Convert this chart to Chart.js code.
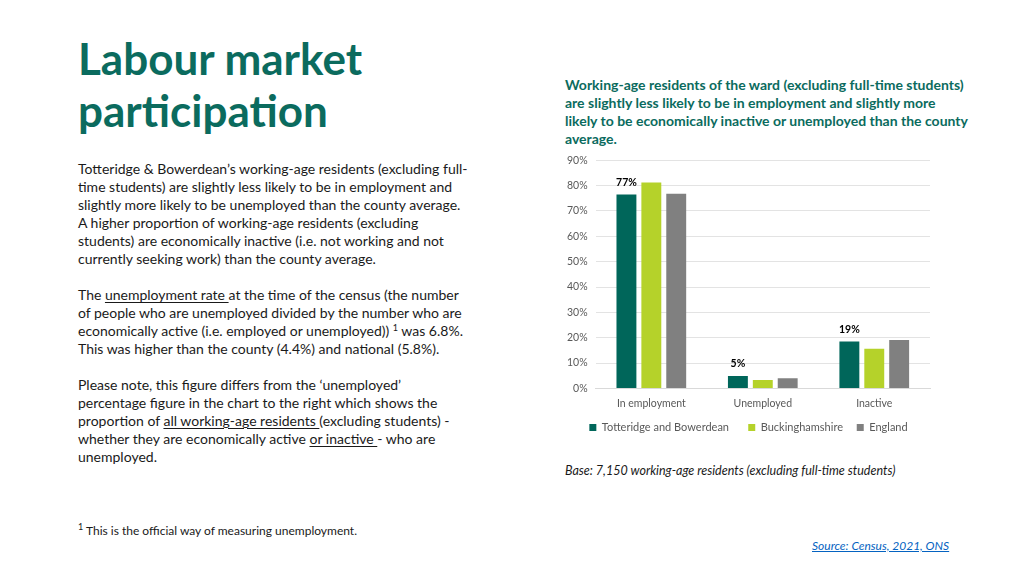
<!DOCTYPE html>
<html><head><meta charset="utf-8">
<script src="https://cdn.jsdelivr.net/npm/chart.js@4.4.0/dist/chart.umd.min.js"></script>
<style>
html,body{margin:0;padding:0;background:#fff;width:1024px;height:576px;overflow:hidden;font-family:Lato,"Open Sans",sans-serif;}
.abs{position:absolute;}
#title{left:78px;top:32px;font-size:44px;font-weight:bold;color:#0b6b5e;line-height:52px;}
#body{left:78px;top:160px;font-size:14px;color:#1a1a1a;line-height:18px;}
#body p{margin:0 0 18px 0;}
u{text-decoration-thickness:1px;text-underline-offset:2px;}
#sub{left:565px;top:76px;font-size:14px;font-weight:bold;color:#0b6b5e;line-height:18px;}
#foot{left:78px;top:523px;font-size:12px;color:#1a1a1a;}
#base{left:565px;top:463px;font-size:12.5px;font-style:italic;color:#1a1a1a;}
#src{left:812px;top:538px;font-size:12px;font-style:italic;color:#0563c1;text-decoration:underline;}
#wrap{left:555px;top:146px;width:390px;height:297px;}
sup{font-size:9px;line-height:0;vertical-align:5px;}
</style></head><body>
<div id="title" class="abs">Labour market<br>participation</div>
<div id="body" class="abs">
<p>Totteridge &amp; Bowerdean’s working-age residents (excluding full-<br>time students) are slightly less likely to be in employment and<br>slightly more likely to be unemployed than the county average.<br>A higher proportion of working-age residents (excluding<br>students) are economically inactive (i.e. not working and not<br>currently seeking work) than the county average.</p>
<p>The <u>unemployment rate </u>at the time of the census (the number<br>of people who are unemployed divided by the number who are<br>economically active (i.e. employed or unemployed)) <sup>1</sup> was 6.8%.<br>This was higher than the county (4.4%) and national (5.8%).</p>
<p>Please note, this figure differs from the ‘unemployed’<br>percentage figure in the chart to the right which shows the<br>proportion of <u>all working-age residents </u>(excluding students) -<br>whether they are economically active <u>or inactive </u>- who are<br>unemployed.</p>
</div>
<div id="sub" class="abs">Working-age residents of the ward (excluding full-time students)<br>are slightly less likely to be in employment and slightly more<br>likely to be economically inactive or unemployed than the county<br>average.</div>
<div id="wrap" class="abs"><canvas id="c"></canvas></div>
<div id="base" class="abs">Base: 7,150 working-age residents (excluding full-time students)</div>
<div id="foot" class="abs"><sup>1</sup> This is the official way of measuring unemployment.</div>
<div id="src" class="abs">Source: Census, 2021, ONS</div>
<script>
const categories = ["In employment", "Unemployed", "Inactive"];
const seriesNames = ["Totteridge and Bowerdean", "Buckinghamshire", "England"];
const totteridge = [76.5, 4.9, 18.5];
const buckinghamshire = [81.2, 3.3, 15.6];
const england = [76.8, 4.0, 19.1];
const totteridgeLabels = ["77%", "5%", "19%"];
const yTicks = [0, 10, 20, 30, 40, 50, 60, 70, 80, 90];
const colors = ["#00665a", "#b5d22a", "#808080"];
const FONT = 'Lato, "Open Sans", sans-serif';

const labelPlugin = {
  id: 'barLabels',
  afterLayout(chart) {
    if (chart.legend) { chart.legend.left += 4; chart.legend.right += 4; }
  },
  afterDatasetsDraw(chart) {
    const ctx = chart.ctx;
    const meta = chart.getDatasetMeta(0);
    ctx.save();
    ctx.font = 'bold 10.5px ' + FONT;
    ctx.fillStyle = '#000';
    ctx.textAlign = 'center';
    ctx.textBaseline = 'bottom';
    meta.data.forEach((bar, i) => {
      ctx.fillText(totteridgeLabels[i], bar.x, bar.y - 7);
    });
    ctx.restore();
  }
};

new Chart(document.getElementById('c'), {
  type: 'bar',
  data: {
    labels: categories,
    datasets: [
      {label: seriesNames[0], data: totteridge, backgroundColor: colors[0]},
      {label: seriesNames[1], data: buckinghamshire, backgroundColor: colors[1]},
      {label: seriesNames[2], data: england, backgroundColor: colors[2]}
    ]
  },
  options: {
    responsive: true,
    maintainAspectRatio: false,
    animation: false,
    layout: {padding: {top: 2, right: 15, left: 4, bottom: 0}},
    datasets: {bar: {barPercentage: 0.8, categoryPercentage: 0.67}},
    plugins: {
      legend: {
        position: 'bottom',
        labels: {
          boxWidth: 7, boxHeight: 7, color: '#595959', font: {size: 11, family: FONT}, padding: 11,
          generateLabels(chart) {
            const items = Chart.defaults.plugins.legend.labels.generateLabels(chart);
            const extra = ['\u2002\u2009\u2009', '\u2009\u2009', ''];
            items.forEach((it, i) => { it.text = it.text + extra[i]; });
            return items;
          }
        }
      },
      tooltip: {enabled: false}
    },
    scales: {
      x: {
        grid: {display: false},
        border: {color: '#d9d9d9'},
        ticks: {color: '#595959', font: {size: 10.5, family: FONT}, padding: 1}
      },
      y: {
        min: 0, max: 90,
        afterBuildTicks(axis) { axis.ticks = yTicks.map(v => ({value: v})); },
        grid: {color: '#e3e3e3', drawTicks: false},
        border: {display: false},
        ticks: {color: '#595959', font: {size: 10.5, family: FONT}, padding: 8, callback: v => v + '%'}
      }
    }
  },
  plugins: [labelPlugin]
});
</script>
</body></html>
